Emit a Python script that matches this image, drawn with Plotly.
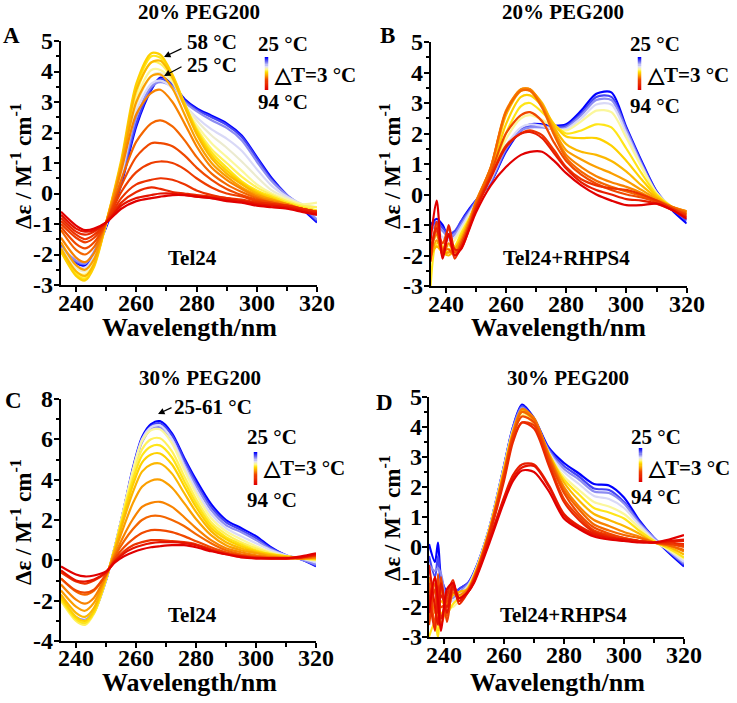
import plotly.graph_objects as go
from plotly.colors import sample_colorscale

W, H = 737, 703
FONT = "Liberation Serif"

# ---------------- DATA ----------------
# Panel A: Tel24, 20% PEG200
wl_A = [235, 240, 243, 246, 250, 255, 260, 265, 268, 272, 276, 280, 285, 290, 295, 300, 305, 310, 315, 320]
temps_A = [25, 31, 37, 43, 46, 49, 52, 55, 58, 61, 64, 67, 70, 73, 76, 79, 82, 88, 94]
cd_A = [
    [-1.7, -2.3, -2.35, -2.0, -1.1, 0.3, 2.2, 3.4, 3.8, 3.6, 3.1, 2.8, 2.55, 2.3, 1.9, 1.2, 0.5, -0.05, -0.5, -0.95],
    [-1.7, -2.25, -2.3, -1.95, -1.05, 0.4, 2.3, 3.45, 3.75, 3.55, 3.05, 2.75, 2.5, 2.25, 1.85, 1.15, 0.45, -0.05, -0.45, -0.9],
    [-1.75, -2.2, -2.3, -1.9, -1.0, 0.5, 2.5, 3.5, 3.65, 3.5, 3.0, 2.7, 2.4, 2.15, 1.75, 1.05, 0.4, -0.05, -0.4, -0.85],
    [-1.8, -2.35, -2.45, -2.05, -1.0, 0.6, 2.7, 3.6, 3.7, 3.45, 2.9, 2.5, 2.1, 1.8, 1.4, 0.8, 0.25, -0.1, -0.35, -0.6],
    [-1.8, -2.45, -2.55, -2.15, -1.0, 0.7, 2.9, 3.85, 3.95, 3.65, 2.95, 2.4, 1.9, 1.5, 1.05, 0.55, 0.1, -0.15, -0.35, -0.45],
    [-1.85, -2.55, -2.65, -2.25, -1.0, 0.8, 3.1, 4.05, 4.05, 3.7, 2.9, 2.25, 1.65, 1.2, 0.75, 0.3, 0.0, -0.2, -0.35, -0.3],
    [-1.9, -2.6, -2.75, -2.3, -1.0, 0.9, 3.3, 4.3, 4.25, 3.75, 2.9, 2.15, 1.45, 1.0, 0.55, 0.2, -0.05, -0.25, -0.4, -0.45],
    [-1.9, -2.65, -2.8, -2.35, -0.95, 1.0, 3.5, 4.5, 4.45, 3.85, 2.95, 2.1, 1.35, 0.85, 0.4, 0.1, -0.1, -0.3, -0.45, -0.55],
    [-1.9, -2.7, -2.85, -2.4, -0.95, 1.1, 3.6, 4.6, 4.55, 3.9, 2.95, 2.05, 1.25, 0.75, 0.35, 0.05, -0.15, -0.35, -0.5, -0.65],
    [-1.8, -2.55, -2.7, -2.3, -0.95, 1.0, 3.4, 4.3, 4.35, 3.8, 2.85, 1.95, 1.15, 0.65, 0.3, 0.0, -0.2, -0.35, -0.5, -0.6],
    [-1.6, -2.35, -2.5, -2.15, -0.95, 0.9, 3.0, 3.85, 3.9, 3.45, 2.6, 1.75, 1.0, 0.55, 0.2, -0.05, -0.2, -0.35, -0.5, -0.6],
    [-1.45, -2.1, -2.25, -1.95, -0.95, 0.75, 2.6, 3.3, 3.4, 3.0, 2.3, 1.55, 0.85, 0.45, 0.15, -0.1, -0.25, -0.35, -0.5, -0.6],
    [-1.2, -1.85, -2.0, -1.75, -0.95, 0.45, 1.7, 2.3, 2.4, 2.2, 1.75, 1.2, 0.65, 0.3, 0.05, -0.15, -0.3, -0.4, -0.5, -0.6],
    [-1.1, -1.65, -1.8, -1.6, -0.95, 0.25, 1.2, 1.65, 1.65, 1.55, 1.25, 0.85, 0.45, 0.15, -0.05, -0.2, -0.3, -0.4, -0.5, -0.6],
    [-1.0, -1.45, -1.6, -1.45, -0.95, 0.05, 0.7, 1.0, 1.05, 1.0, 0.8, 0.5, 0.2, 0.0, -0.1, -0.25, -0.35, -0.4, -0.5, -0.6],
    [-0.9, -1.35, -1.5, -1.35, -0.95, -0.15, 0.3, 0.45, 0.5, 0.45, 0.3, 0.1, -0.05, -0.15, -0.2, -0.3, -0.35, -0.45, -0.5, -0.65],
    [-0.8, -1.25, -1.35, -1.25, -0.95, -0.3, 0.05, 0.2, 0.15, 0.05, 0.0, -0.05, -0.1, -0.15, -0.25, -0.3, -0.35, -0.4, -0.5, -0.6],
    [-0.7, -1.15, -1.25, -1.2, -0.95, -0.4, -0.15, -0.05, 0.0, 0.0, -0.05, -0.1, -0.15, -0.2, -0.25, -0.35, -0.4, -0.45, -0.55, -0.65],
    [-0.6, -1.05, -1.2, -1.15, -0.95, -0.5, -0.25, -0.15, -0.1, -0.05, -0.05, -0.1, -0.15, -0.25, -0.3, -0.4, -0.45, -0.5, -0.6, -0.7],
]

# Panel B: Tel24+RHPS4, 20% PEG200
wl_B = [235, 237, 239, 241, 243, 245, 248, 250, 255, 260, 265, 268, 272, 276, 280, 285, 290, 295, 300, 305, 310, 315, 320]
temps_B = [25, 31, 37, 43, 49, 55, 58, 61, 64, 67, 70, 73, 79, 85, 94]
cd_B = [
    [-1.0, -0.8, -1.0, -1.4, -1.3, -0.9, -0.45, -0.2, 0.4, 1.4, 2.1, 2.3, 2.3, 2.25, 2.3, 2.75, 3.3, 3.35, 2.2, 1.1, 0.1, -0.5, -0.95],
    [-1.1, -0.9, -1.1, -1.3, -1.2, -0.9, -0.5, -0.2, 0.4, 1.45, 2.1, 2.25, 2.25, 2.2, 2.25, 2.65, 3.2, 3.2, 2.15, 1.05, 0.1, -0.45, -0.85],
    [-1.2, -1.0, -1.2, -1.4, -1.3, -1.0, -0.55, -0.25, 0.45, 1.5, 2.1, 2.2, 2.2, 2.15, 2.2, 2.6, 3.1, 3.1, 2.1, 1.0, 0.05, -0.45, -0.8],
    [-1.4, -1.2, -1.4, -1.5, -1.4, -1.1, -0.6, -0.3, 0.5, 1.6, 2.2, 2.3, 2.25, 2.15, 2.15, 2.5, 2.95, 2.95, 2.0, 0.95, 0.05, -0.4, -0.75],
    [-1.6, -1.4, -1.6, -1.7, -1.5, -1.2, -0.7, -0.3, 0.55, 1.8, 2.5, 2.6, 2.45, 2.2, 2.1, 2.4, 2.75, 2.7, 1.85, 0.9, 0.05, -0.4, -0.7],
    [-3.0, -1.6, -1.7, -1.8, -1.7, -1.3, -0.75, -0.35, 0.6, 2.0, 2.9, 3.0, 2.7, 2.3, 2.0, 2.1, 2.3, 2.2, 1.5, 0.7, 0.0, -0.4, -0.65],
    [-2.0, -1.7, -1.8, -1.9, -1.8, -1.4, -0.8, -0.35, 0.7, 2.3, 3.2, 3.25, 2.9, 2.3, 1.9, 1.85, 1.85, 1.6, 1.1, 0.5, -0.05, -0.4, -0.6],
    [-2.0, -1.7, -1.9, -2.0, -1.8, -1.5, -0.8, -0.3, 0.8, 2.6, 3.4, 3.4, 3.0, 2.2, 1.65, 1.4, 1.3, 1.1, 0.75, 0.3, -0.1, -0.4, -0.55],
    [-2.1, -1.5, -1.9, -1.9, -1.8, -1.5, -0.8, -0.25, 0.9, 2.7, 3.45, 3.45, 2.95, 2.1, 1.45, 1.15, 0.9, 0.7, 0.45, 0.15, -0.15, -0.4, -0.55],
    [-1.9, -1.3, -2.0, -1.6, -1.9, -1.6, -0.9, -0.25, 0.9, 2.75, 3.45, 3.45, 2.9, 2.0, 1.3, 0.9, 0.6, 0.4, 0.25, 0.05, -0.2, -0.4, -0.55],
    [-2.1, -1.0, -1.8, -1.8, -2.0, -1.6, -0.9, -0.3, 0.9, 2.7, 3.4, 3.4, 2.85, 1.95, 1.2, 0.75, 0.45, 0.25, 0.1, -0.05, -0.2, -0.4, -0.6],
    [-1.8, -1.2, -1.6, -1.1, -1.9, -1.7, -1.0, -0.4, 0.7, 2.0, 2.6, 2.7, 2.4, 1.7, 1.1, 0.65, 0.35, 0.15, 0.0, -0.1, -0.25, -0.45, -0.65],
    [-2.2, -0.9, -1.9, -1.3, -2.1, -1.7, -1.0, -0.45, 0.6, 1.6, 2.0, 2.1, 1.95, 1.45, 0.9, 0.5, 0.3, 0.2, 0.15, 0.0, -0.2, -0.45, -0.7],
    [-1.8, -1.1, -2.0, -1.0, -1.8, -1.8, -1.05, -0.5, 0.55, 1.55, 2.0, 2.05, 1.85, 1.35, 0.85, 0.4, 0.15, 0.0, -0.15, -0.2, -0.3, -0.5, -0.75],
    [-1.5, -0.2, -2.1, -1.3, -2.0, -1.8, -1.1, -0.6, 0.3, 0.9, 1.3, 1.4, 1.4, 1.1, 0.7, 0.3, 0.0, -0.2, -0.35, -0.35, -0.3, -0.5, -0.8],
]

# Panel C: Tel24, 30% PEG200
wl_C = [235, 240, 243, 246, 250, 253, 256, 259, 262, 265, 268, 272, 276, 280, 285, 290, 295, 300, 305, 310, 315, 320]
temps_C = [25, 31, 37, 43, 49, 52, 55, 58, 61, 64, 67, 70, 73, 79, 88, 94]
cd_C = [
    [-1.9, -2.9, -3.1, -2.6, -1.0, 0.7, 2.6, 4.6, 6.1, 6.75, 6.9, 6.3, 5.1, 4.0, 2.8, 2.0, 1.6, 1.2, 0.65, 0.25, 0.05, -0.3],
    [-1.9, -2.85, -3.0, -2.5, -0.95, 0.7, 2.6, 4.5, 6.0, 6.65, 6.8, 6.2, 5.0, 3.85, 2.65, 1.9, 1.5, 1.1, 0.6, 0.25, 0.05, -0.25],
    [-1.9, -2.8, -2.95, -2.5, -0.95, 0.7, 2.55, 4.4, 5.85, 6.5, 6.6, 6.0, 4.8, 3.7, 2.5, 1.75, 1.4, 1.0, 0.55, 0.25, 0.05, -0.2],
    [-2.0, -2.9, -3.0, -2.55, -0.95, 0.7, 2.6, 4.5, 6.0, 6.6, 6.7, 6.0, 4.7, 3.5, 2.3, 1.6, 1.2, 0.85, 0.5, 0.25, 0.1, -0.1],
    [-2.0, -2.9, -3.1, -2.6, -0.95, 0.7, 2.6, 4.45, 5.9, 6.45, 6.5, 5.8, 4.5, 3.3, 2.1, 1.45, 1.05, 0.7, 0.4, 0.2, 0.1, 0.0],
    [-2.0, -3.0, -3.2, -2.65, -0.95, 0.7, 2.5, 4.2, 5.5, 6.0, 6.05, 5.4, 4.2, 3.05, 1.9, 1.3, 0.9, 0.6, 0.35, 0.2, 0.1, 0.05],
    [-1.9, -2.9, -3.1, -2.6, -0.95, 0.65, 2.4, 4.0, 5.2, 5.65, 5.7, 5.1, 3.95, 2.85, 1.75, 1.15, 0.8, 0.5, 0.3, 0.2, 0.1, 0.05],
    [-1.8, -2.8, -3.0, -2.5, -0.9, 0.6, 2.25, 3.75, 4.85, 5.25, 5.3, 4.75, 3.7, 2.65, 1.6, 1.05, 0.7, 0.45, 0.3, 0.2, 0.1, 0.1],
    [-1.7, -2.6, -2.8, -2.35, -0.85, 0.55, 2.05, 3.4, 4.4, 4.75, 4.8, 4.3, 3.35, 2.4, 1.45, 0.9, 0.6, 0.4, 0.25, 0.15, 0.1, 0.1],
    [-1.5, -2.3, -2.5, -2.1, -0.8, 0.45, 1.7, 2.85, 3.65, 3.95, 4.0, 3.6, 2.85, 2.05, 1.25, 0.75, 0.5, 0.35, 0.2, 0.15, 0.1, 0.15],
    [-1.2, -1.95, -2.15, -1.85, -0.75, 0.3, 1.25, 2.05, 2.65, 2.85, 2.9, 2.65, 2.15, 1.6, 1.0, 0.6, 0.4, 0.25, 0.15, 0.15, 0.1, 0.15],
    [-0.9, -1.55, -1.7, -1.5, -0.7, 0.2, 0.95, 1.55, 2.0, 2.2, 2.2, 2.0, 1.7, 1.3, 0.85, 0.5, 0.3, 0.2, 0.15, 0.1, 0.1, 0.2],
    [-0.9, -1.5, -1.6, -1.45, -0.7, 0.1, 0.65, 1.05, 1.35, 1.5, 1.5, 1.4, 1.2, 0.95, 0.65, 0.4, 0.25, 0.15, 0.1, 0.1, 0.15, 0.25],
    [-0.6, -1.05, -1.15, -1.0, -0.6, 0.0, 0.45, 0.75, 0.9, 1.0, 1.0, 0.95, 0.9, 0.8, 0.55, 0.35, 0.2, 0.15, 0.1, 0.1, 0.15, 0.25],
    [-0.5, -1.0, -1.05, -0.95, -0.6, -0.05, 0.35, 0.6, 0.75, 0.85, 0.9, 0.9, 0.85, 0.75, 0.5, 0.3, 0.2, 0.1, 0.1, 0.1, 0.15, 0.3],
    [-0.3, -0.7, -0.8, -0.75, -0.55, -0.1, 0.2, 0.4, 0.55, 0.65, 0.7, 0.75, 0.75, 0.65, 0.45, 0.3, 0.15, 0.1, 0.1, 0.1, 0.2, 0.35],
]

# Panel D: Tel24+RHPS4, 30% PEG200
wl_D = [235, 237, 238, 239, 241, 243, 245, 248, 250, 255, 260, 263, 266, 270, 275, 280, 285, 290, 295, 300, 305, 310, 315, 320]
temps_D = [25, 31, 37, 43, 49, 55, 61, 67, 70, 73, 76, 82, 85, 88, 94]
cd_D = [
    [0.1, -0.5, 0.15, -1.0, -1.5, -1.6, -1.4, -1.2, -0.85, 0.6, 2.7, 4.0, 4.75, 4.3, 3.3, 2.8, 2.45, 2.1, 2.05, 1.65, 0.9, 0.3, -0.2, -0.65],
    [-0.3, -1.0, -0.3, -1.2, -1.6, -1.6, -1.4, -1.2, -0.85, 0.6, 2.7, 4.0, 4.7, 4.25, 3.25, 2.7, 2.35, 1.95, 1.9, 1.5, 0.85, 0.3, -0.15, -0.6],
    [-0.6, -0.8, -0.7, -0.9, -1.7, -1.7, -1.5, -1.25, -0.9, 0.6, 2.7, 3.95, 4.65, 4.2, 3.2, 2.6, 2.25, 1.85, 1.8, 1.45, 0.8, 0.3, -0.15, -0.55],
    [-1.5, -1.2, -1.8, -1.4, -1.8, -1.8, -1.6, -1.3, -0.9, 0.6, 2.65, 3.9, 4.5, 4.15, 3.15, 2.5, 2.1, 1.7, 1.6, 1.3, 0.75, 0.25, -0.1, -0.5],
    [-2.5, -2.2, -2.8, -2.0, -2.0, -2.0, -1.8, -1.35, -0.95, 0.55, 2.6, 3.85, 4.4, 4.1, 3.1, 2.35, 1.9, 1.5, 1.35, 1.1, 0.65, 0.2, -0.1, -0.4],
    [-3.0, -2.5, -3.0, -2.2, -2.2, -1.9, -1.7, -1.35, -0.95, 0.55, 2.6, 3.85, 4.5, 4.2, 3.1, 2.25, 1.75, 1.3, 1.15, 0.95, 0.55, 0.2, -0.05, -0.35],
    [-2.0, -1.5, -2.5, -1.8, -2.0, -1.6, -1.5, -1.4, -1.0, 0.5, 2.55, 3.85, 4.55, 4.25, 3.1, 2.15, 1.55, 1.1, 0.9, 0.7, 0.45, 0.15, 0.0, -0.25],
    [-1.0, -2.2, -1.5, -2.6, -1.9, -1.3, -1.6, -1.4, -1.0, 0.5, 2.5, 3.8, 4.6, 4.3, 3.05, 2.0, 1.35, 0.9, 0.7, 0.5, 0.35, 0.15, 0.05, -0.15],
    [-2.4, -1.2, -2.0, -1.4, -2.3, -1.5, -1.7, -1.45, -1.05, 0.45, 2.45, 3.75, 4.5, 4.25, 3.0, 1.9, 1.25, 0.75, 0.55, 0.4, 0.3, 0.15, 0.05, -0.1],
    [-1.2, -2.6, -0.9, -2.0, -1.8, -1.2, -1.8, -1.45, -1.05, 0.45, 2.4, 3.7, 4.35, 4.15, 2.9, 1.8, 1.1, 0.65, 0.45, 0.3, 0.2, 0.15, 0.1, 0.0],
    [-2.6, -1.4, -2.2, -1.0, -2.5, -1.4, -1.7, -1.5, -1.1, 0.4, 2.3, 3.6, 4.15, 4.05, 2.8, 1.6, 1.0, 0.55, 0.4, 0.3, 0.2, 0.15, 0.1, 0.05],
    [-1.6, -2.8, -1.3, -2.4, -1.6, -1.1, -1.9, -1.5, -1.1, 0.35, 2.2, 3.5, 4.15, 3.95, 2.7, 1.5, 0.9, 0.5, 0.35, 0.25, 0.2, 0.15, 0.15, 0.1],
    [-1.8, -1.0, -2.2, -1.6, -2.0, -1.2, -1.8, -1.5, -1.15, 0.2, 1.65, 2.4, 2.75, 2.75, 2.05, 1.1, 0.7, 0.45, 0.3, 0.25, 0.2, 0.15, 0.2, 0.2],
    [-0.6, -2.0, -2.6, -1.2, -2.2, -1.3, -1.8, -1.5, -1.15, 0.2, 1.6, 2.3, 2.65, 2.7, 2.0, 1.05, 0.65, 0.4, 0.3, 0.25, 0.2, 0.15, 0.2, 0.25],
    [-2.2, -1.0, -1.8, -2.8, -1.4, -1.2, -1.7, -1.5, -1.2, 0.1, 1.5, 2.2, 2.55, 2.5, 1.85, 0.95, 0.6, 0.35, 0.25, 0.2, 0.15, 0.15, 0.25, 0.4],
]

T_MIN, T_MAX = 25, 94
x_ticks = [240, 260, 280, 300, 320]
x_minor = [250, 270, 290, 310]

# ---------------- STYLE ----------------
LINE_SCALE = [
    [0.0, "rgb(0,0,255)"],
    [0.14, "rgb(110,110,240)"],
    [0.27, "rgb(225,225,248)"],
    [0.36, "rgb(255,250,140)"],
    [0.45, "rgb(255,225,0)"],
    [0.58, "rgb(250,150,0)"],
    [0.70, "rgb(240,70,0)"],
    [1.0, "rgb(225,0,0)"],
]


def P(x, y):
    return x / W, 1 - y / H


panels = [
    dict(wl=wl_A, temps=temps_A, cd=cd_A, xd=(61, 317), yd=(41, 285), yr=(-3, 5), yt=1, ym=0.5, xl=303, yl=55),
    dict(wl=wl_B, temps=temps_B, cd=cd_B, xd=(430.6, 686.7), yd=(42, 286), yr=(-3, 5), yt=1, ym=0.5, xl=304, yl=425),
    dict(wl=wl_C, temps=temps_C, cd=cd_C, xd=(61, 316), yd=(399, 641), yr=(-4, 8), yt=2, ym=1, xl=658, yl=55),
    dict(wl=wl_D, temps=temps_D, cd=cd_D, xd=(429, 684), yd=(397, 637), yr=(-3, 5), yt=1, ym=0.5, xl=655, yl=424),
]

fig = go.Figure()
layout = dict(
    width=W, height=H, margin=dict(l=0, r=0, t=0, b=0, autoexpand=False),
    paper_bgcolor="white", plot_bgcolor="white", showlegend=False,
    font=dict(family=FONT, color="black"),
)

annotations = []


def txt(x, y, s, size=20, anchor="center", angle=0):
    ax_, ay_ = P(x, y)
    annotations.append(dict(
        x=ax_, y=ay_, xref="paper", yref="paper", text=s, showarrow=False,
        xanchor=anchor, yanchor="middle", textangle=angle,
        font=dict(family=FONT, size=size, color="black", weight="bold"),
    ))


def arrow(hx, hy, tx, ty):
    ax_, ay_ = P(hx, hy)
    annotations.append(dict(
        x=ax_, y=ay_, xref="paper", yref="paper", text="", showarrow=True,
        ax=tx - hx, ay=ty - hy, arrowhead=2, arrowsize=1, arrowwidth=1.3,
        arrowcolor="black",
    ))


TICK_SIZE = 24
for i, p in enumerate(panels):
    k = "" if i == 0 else str(i + 1)
    xref, yref = "x" + k, "y" + k
    fracs = [(t - T_MIN) / (T_MAX - T_MIN) for t in p["temps"]]
    cols = sample_colorscale(LINE_SCALE, fracs)
    for vals, c in zip(p["cd"], cols):
        fig.add_trace(go.Scatter(
            x=p["wl"], y=vals, mode="lines", xaxis=xref, yaxis=yref,
            line=dict(color=c, width=2.2, shape="spline", smoothing=0.8),
            hoverinfo="skip",
        ))
    x0, x1 = p["xd"]
    y0, y1 = p["yd"]
    ymin, ymax = p["yr"]
    yticks = [v for v in range(ymin, ymax + 1, p["yt"])]
    nmin = int(round((ymax - ymin) / p["ym"]))
    yminor = [ymin + j * p["ym"] for j in range(nmin + 1)]
    yminor = [v for v in yminor if abs(v - round(v / p["yt"]) * p["yt"]) > 1e-6]
    layout["xaxis" + k] = dict(
        domain=[x0 / W, x1 / W], anchor=yref, range=[235, 320],
        tickvals=x_ticks, ticks="outside", ticklen=5, tickwidth=2, tickcolor="black",
        minor=dict(tickvals=x_minor, ticks="outside", ticklen=4, tickwidth=1.5, tickcolor="black"),
        showline=True, linewidth=2, linecolor="black", showgrid=False, zeroline=False,
        showticklabels=False, fixedrange=True,
    )
    layout["yaxis" + k] = dict(
        domain=[1 - y1 / H, 1 - y0 / H], anchor=xref, range=[ymin, ymax],
        tickvals=yticks, ticks="outside", ticklen=5, tickwidth=2, tickcolor="black",
        minor=dict(tickvals=yminor, ticks="outside", ticklen=3, tickwidth=1.5, tickcolor="black"),
        showline=True, linewidth=2, linecolor="black", showgrid=False, zeroline=False,
        showticklabels=False, fixedrange=True,
    )
    # tick labels placed at the axis values
    for v in x_ticks:
        annotations.append(dict(
            x=v, y=1 - p["xl"] / H, xref=xref, yref="paper", text=str(v), showarrow=False,
            xanchor="center", yanchor="middle",
            font=dict(family=FONT, size=TICK_SIZE, color="black", weight="bold"),
        ))
    for v in yticks:
        annotations.append(dict(
            x=p["yl"] / W, y=v, xref="paper", yref=yref, text=str(v), showarrow=False,
            xanchor="right", yanchor="middle",
            font=dict(family=FONT, size=TICK_SIZE, color="black", weight="bold"),
        ))

# gradient temperature bars drawn as tiny heatmaps (x centre px, y top px, y bottom px)
bar_levels = [j / 30 for j in range(31)]
bars = [(266.5, 57, 90), (639.5, 57, 90), (255.5, 452, 485), (640.5, 448, 482)]
for i, (bx, bt, bb) in enumerate(bars):
    n = str(5 + i)
    fig.add_trace(go.Heatmap(
        z=[[1 - v] for v in bar_levels], colorscale=LINE_SCALE, zmin=0, zmax=1,
        showscale=False, xaxis="x" + n, yaxis="y" + n, hoverinfo="skip",
    ))
    layout["xaxis" + n] = dict(domain=[(bx - 2) / W, (bx + 2) / W], anchor="y" + n,
                               visible=False, fixedrange=True)
    layout["yaxis" + n] = dict(domain=[1 - bb / H, 1 - bt / H], anchor="x" + n,
                               visible=False, fixedrange=True)

# Panel titles and letters
txt(199, 12, "20% PEG200", 21)
txt(563, 12, "20% PEG200", 21)
txt(200, 378, "30% PEG200", 21)
txt(568, 378, "30% PEG200", 21)
txt(12, 36, "A", 23)
txt(387, 36, "B", 23)
txt(13, 400, "C", 23)
txt(385, 402, "D", 23)

# Axis titles
YT = "Δε / M<sup>-1</sup> cm<sup>-1</sup>"
txt(21, 166, YT, 23, angle=-90)
txt(390, 166, YT, 23, angle=-90)
txt(21, 522, YT, 23, angle=-90)
txt(390, 518, YT, 23, angle=-90)
txt(189, 327, "Wavelength/nm", 26)
txt(558, 327, "Wavelength/nm", 26)
txt(189, 682, "Wavelength/nm", 26)
txt(557, 682, "Wavelength/nm", 26)

# Sample labels
txt(193, 258, "Tel24", 21)
txt(566, 258, "Tel24+RHPS4", 21)
txt(193, 615, "Tel24", 21)
txt(563, 615, "Tel24+RHPS4", 21)

# Temperature legends
for (lx, ty25, ydt, ty94, dx) in [(283, 44, 75, 102, 272), (655, 44, 75, 106, 645),
                                  (272, 437, 468, 500, 261), (656, 437, 468, 497, 646)]:
    txt(lx, ty25, "25 °C", 21)
    txt(dx, ydt, "△T=3 °C", 21, anchor="left")
    txt(lx, ty94, "94 °C", 21)

# Arrow annotations
arrow(164, 57, 183, 48)
txt(185, 42, "58 °C", 21, anchor="left")
arrow(164, 76, 183, 66)
txt(185, 65, "25 °C", 21, anchor="left")
arrow(158, 414, 173, 407)
txt(172, 407, "25-61 °C", 21, anchor="left")

layout["annotations"] = annotations
fig.update_layout(**layout)
fig.write_html("out.html", config={"displayModeBar": False},
               post_script="document.body.style.margin='0px';")
